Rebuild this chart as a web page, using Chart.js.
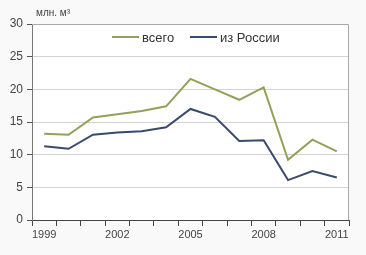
<!DOCTYPE html>
<html>
<head>
<meta charset="utf-8">
<script src="https://cdn.jsdelivr.net/npm/chart.js@4/dist/chart.umd.min.js"></script>
<style>
  html, body { margin: 0; padding: 0; background: #f9f9f9; }
  #wrap { width: 366px; height: 255px; }
</style>
</head>
<body>
<div id="wrap"><canvas id="chart" width="366" height="255"></canvas></div>
<script>
// Импорт лесоматериалов, млн. м³
const years = ['1999', '2000', '2001', '2002', '2003', '2004', '2005', '2006', '2007', '2008', '2009', '2010', '2011'];
const total = [13.2, 13.05, 15.7, 16.2, 16.7, 17.4, 21.6, 20.0, 18.4, 20.3, 9.2, 12.3, 10.5];
const fromRussia = [11.3, 10.9, 13.05, 13.4, 13.6, 14.2, 17.0, 15.8, 12.1, 12.2, 6.1, 7.5, 6.5];
const yTicks = [0, 5, 10, 15, 20, 25, 30];
const unitLabel = 'млн. м³';

const green = '#8fa257';
const navy = '#394a6c';

// белый фон области, рамка, подпись единиц и легенда внутри графика
const extras = {
  id: 'extras',
  beforeDraw(chart) {
    const { ctx, chartArea: a } = chart;
    ctx.save();
    ctx.fillStyle = '#ffffff';
    ctx.fillRect(a.left, a.top, a.right - a.left, a.bottom - a.top);
    ctx.restore();
  },
  beforeDatasetsDraw(chart) {
    const { ctx, chartArea: a } = chart;
    ctx.save();
    ctx.strokeStyle = '#a8a8a8';
    ctx.lineWidth = 1;
    ctx.beginPath();
    ctx.moveTo(a.left, a.top + 0.5);
    ctx.lineTo(a.right - 0.5, a.top + 0.5);
    ctx.lineTo(a.right - 0.5, a.bottom);
    ctx.stroke();
    ctx.restore();
  },
  afterDraw(chart) {
    const { ctx } = chart;
    ctx.save();
    ctx.fillStyle = '#444';
    ctx.font = '10px "Liberation Sans", Arial, sans-serif';
    ctx.textBaseline = 'middle';
    ctx.fillText(unitLabel, 36, 13);

    ctx.font = '13px "Liberation Sans", Arial, sans-serif';
    const items = [{ x: 112, ds: chart.data.datasets[0] }, { x: 190, ds: chart.data.datasets[1] }];
    items.forEach(({ x, ds }) => {
      ctx.strokeStyle = ds.borderColor;
      ctx.lineWidth = 2;
      ctx.beginPath();
      ctx.moveTo(x, 37);
      ctx.lineTo(x + 27, 37);
      ctx.stroke();
      ctx.fillStyle = '#333';
      ctx.fillText(ds.label, x + 30, 38);
    });
    ctx.restore();
  }
};

new Chart(document.getElementById('chart'), {
  type: 'line',
  data: {
    labels: years,
    datasets: [
      { label: 'всего', data: total, borderColor: green, borderWidth: 2, pointRadius: 0, tension: 0 },
      { label: 'из России', data: fromRussia, borderColor: navy, borderWidth: 2, pointRadius: 0, tension: 0 },
    ]
  },
  options: {
    responsive: false,
    animation: false,
    layout: { padding: { top: 24, right: 17, left: 0, bottom: 0 } },
    plugins: { legend: { display: false }, tooltip: { enabled: false } },
    scales: {
      x: {
        type: 'category',
        offset: true,
        afterFit(scale) { scale.height = 35; },
        grid: { offset: true, drawOnChartArea: false, tickLength: 6, tickColor: '#444' },
        border: { color: '#444', width: 1 },
        ticks: {
          autoSkip: false,
          maxRotation: 0,
          padding: 2,
          color: '#444',
          font: { family: '"Liberation Sans", Arial, sans-serif', size: 11 },
          callback(value, index) { return index % 3 === 0 ? years[index] : ''; }
        }
      },
      y: {
        min: 0,
        max: 30,
        afterFit(scale) { scale.width = 32; },
        afterBuildTicks(scale) { scale.ticks = yTicks.map((v) => ({ value: v })); },
        grid: {
          color: (c) => (c.tick && c.tick.value === 30 ? 'rgba(0,0,0,0)' : '#d4d4d4'),
          tickColor: '#555',
          tickLength: 5
        },
        border: { color: '#777', width: 1 },
        ticks: {
          padding: 4,
          color: '#444',
          font: { family: '"Liberation Sans", Arial, sans-serif', size: 12 }
        }
      }
    }
  },
  plugins: [extras]
});
</script>
</body>
</html>
